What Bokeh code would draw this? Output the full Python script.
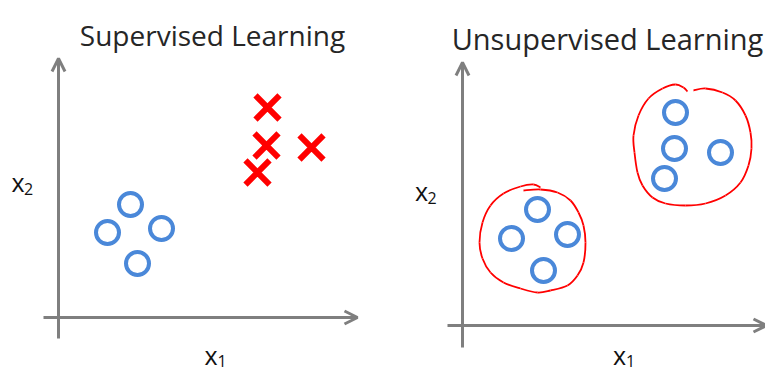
from bokeh.plotting import figure
from bokeh.layouts import row
from bokeh.models import Arrow, OpenHead, Range1d
from bokeh.core.properties import value
from bokeh.embed import file_html
from bokeh.resources import INLINE

# ---- data (units: arbitrary, origin at the axes' crossing) ----
titles = ["Supervised Learning", "Unsupervised Learning"]
axis_names = ["x", "x"]
axis_subs = ["1", "2"]

# Supervised: two labelled classes
sup_o_x = [7.2, 4.9, 10.3, 7.9]
sup_o_y = [11.3, 8.5, 8.9, 5.4]
sup_x_x = [20.9, 20.8, 25.3, 19.9]
sup_x_y = [21.0, 17.2, 17.0, 14.5]

# Unsupervised: unlabelled points, two clusters
uns_x = [7.5, 4.9, 10.5, 8.1, 21.3, 21.2, 25.8, 20.2]
uns_y = [11.6, 8.7, 9.1, 5.5, 21.3, 17.7, 17.3, 14.7]

# hand-drawn cluster outlines
blob1_x = [6.1, 7.8, 9.5, 10.8, 11.6, 12.1, 12.3, 12.1, 11.5, 10.5, 8.8, 7.5,
           5.8, 4.1, 2.8, 2.0, 1.7, 2.0, 2.8, 4.1, 5.8, 7.1, 7.8]
blob1_y = [13.5, 13.6, 13.3, 12.5, 11.3, 10.0, 8.3, 6.3, 5.0, 4.0, 3.5, 3.3,
           3.7, 4.3, 5.3, 6.7, 8.3, 10.3, 12.0, 13.2, 13.9, 14.1, 13.8]
blob2_x = [23.1, 24.3, 26.0, 27.3, 28.3, 28.8, 28.9, 28.6, 27.8, 26.3, 24.3, 22.3,
           20.3, 19.0, 18.0, 17.5, 17.2, 17.1, 17.6, 18.6, 20.0, 21.3, 22.1, 22.5]
blob2_y = [23.5, 23.7, 23.3, 22.5, 21.0, 19.3, 17.7, 16.0, 14.3, 13.0, 12.2, 12.0,
           12.2, 12.8, 14.0, 15.3, 17.3, 19.0, 21.0, 22.7, 23.7, 24.1, 23.8, 23.4]

GREY = "#7f7f7f"
BLUE = "#4a88d9"
RED = "#ff0000"
FONT = value("Open Sans")


def base(width, xr, yr):
    p = figure(width=width, height=371, x_range=Range1d(*xr), y_range=Range1d(*yr),
               output_backend="svg", toolbar_location=None,
               x_axis_location=None, y_axis_location=None, min_border=0)
    p.grid.visible = False
    p.outline_line_color = None
    p.background_fill_color = "white"
    p.border_fill_color = "white"
    return p


def axes(p, x0, x1, y0, y1):
    p.add_layout(Arrow(end=OpenHead(size=13, line_color=GREY, line_width=3),
                       x_start=x0, y_start=0, x_end=x1, y_end=0,
                       line_color=GREY, line_width=3))
    p.add_layout(Arrow(end=OpenHead(size=13, line_color=GREY, line_width=3),
                       x_start=0, y_start=y0, x_end=0, y_end=y1,
                       line_color=GREY, line_width=3))


def label(p, x, y, sub, size, sub_size, dx, dy):
    p.text(x=[x], y=[y], text=["x"], text_font=FONT, text_font_size=size,
           text_color="#111111", text_align="center", text_baseline="alphabetic")
    p.text(x=[x + dx], y=[y - dy], text=[sub], text_font=FONT, text_font_size=sub_size,
           text_color="#111111", text_align="center", text_baseline="alphabetic")


def smooth(px, py):
    n = len(px)
    xs0, ys0, xs1, ys1, cx0, cy0, cx1, cy1 = [], [], [], [], [], [], [], []
    for i in range(n - 1):
        a = max(i - 1, 0); d = min(i + 2, n - 1)
        xs0.append(px[i]); ys0.append(py[i]); xs1.append(px[i + 1]); ys1.append(py[i + 1])
        cx0.append(px[i] + (px[i + 1] - px[a]) / 6); cy0.append(py[i] + (py[i + 1] - py[a]) / 6)
        cx1.append(px[i + 1] - (px[d] - px[i]) / 6); cy1.append(py[i + 1] - (py[d] - py[i]) / 6)
    return dict(x0=xs0, y0=ys0, x1=xs1, y1=ys1, cx0=cx0, cy0=cy0, cx1=cx1, cy1=cy1)


# ---- left panel ----
p1 = base(390, (-5.8, 33.2), (-5.4, 31.7))
axes(p1, -1.5, 29.9, -2.1, 25.9)
p1.text(x=[15.4], y=[28.3], text=[titles[0]], text_font=FONT, text_font_size="28px",
        text_color="#262626", text_align="center", text_baseline="alphabetic")
label(p1, 15.25, -3.7, axis_subs[0], "25px", "16px", 1.1, 0.6)
label(p1, -4.05, 13.6, axis_subs[1], "25px", "16px", 1.05, 0.75)
p1.scatter(sup_o_x, sup_o_y, marker="circle", size=23, fill_color=None,
           line_color=BLUE, line_width=4)
p1.scatter(sup_x_x, sup_x_y, marker="x", size=34, line_color=RED, line_width=6)

# ---- right panel ----
p2 = base(375, (-7.2, 30.3), (-4.6, 32.5))
axes(p2, -1.5, 30.4, -2.2, 26.3)
p2.text(x=[14.5], y=[28.7], text=[titles[1]], text_font=FONT, text_font_size="29px",
        text_color="#262626", text_align="center", text_baseline="alphabetic")
label(p2, 15.7, -2.9, axis_subs[0], "25px", "16px", 1.1, 0.6)
label(p2, -4.1, 13.5, axis_subs[1], "25px", "16px", 1.05, 0.75)
for bx, by in ((blob1_x, blob1_y), (blob2_x, blob2_y)):
    s = smooth(bx, by)
    p2.bezier(x0=s["x0"], y0=s["y0"], x1=s["x1"], y1=s["y1"], cx0=s["cx0"], cy0=s["cy0"],
              cx1=s["cx1"], cy1=s["cy1"], line_color=RED, line_width=1.8)
p2.scatter(uns_x, uns_y, marker="circle", size=23, fill_color=None,
           line_color=BLUE, line_width=4)

layout = row(p1, p2)
open("out.html", "w").write(file_html(layout, INLINE))
